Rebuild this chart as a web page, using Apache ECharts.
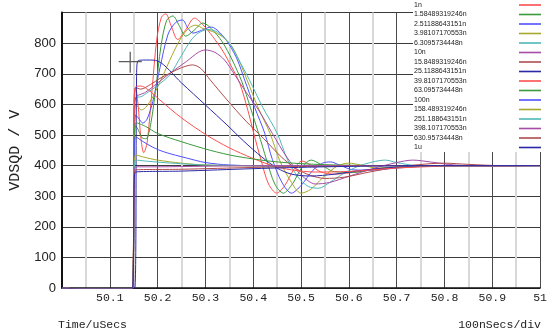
<!DOCTYPE html>
<html><head><meta charset="utf-8">
<script src="https://cdn.jsdelivr.net/npm/echarts@6/dist/echarts.min.js"></script>
<style>html,body{margin:0;padding:0;background:#fff}#c{width:550px;height:335px}</style>
</head><body><div id="c"></div>
<script>
const names = ['1n','1.58489319246n','2.51188643151n','3.98107170553n','6.3095734448n','10n','15.8489319246n','25.1188643151n','39.8107170553n','63.095734448n','100n','158.489319246n','251.188643151n','398.107170553n','630.95734448n','1u'];
const colors = ['#ff4f4f','#3a9a3a','#5050ff','#a8a82a','#50b8b8','#a64ca6','#b04c4c','#2a2aa8','#ff4f4f','#3a9a3a','#5050ff','#a8a82a','#50b8b8','#a64ca6','#b04c4c','#2a2aa8'];
const xTicks = [50.1,50.2,50.3,50.4,50.5,50.6,50.7,50.8,50.9,51];
const yTicks = [0,100,200,300,400,500,600,700,800];
const pre = [[50,0],[50.04,-3],[50.147,-3]];
const v1n = [[50.151,600],[50.154,657],[50.159,600],[50.165,490],[50.171,442],[50.178,475],[50.188,640],[50.198,810],[50.208,885],[50.217,896],[50.228,858],[50.242,812],[50.258,842],[50.277,882],[50.295,860],[50.315,822],[50.335,778],[50.355,722],[50.372,668],[50.388,585],[50.401,506],[50.416,420],[50.432,340],[50.449,310],[50.466,335],[50.485,388],[50.502,415],[50.52,402],[50.54,380],[50.57,372],[50.62,380],[50.68,392],[50.75,398],[50.85,400],[51,400]];
const v1n58 = [[50.151,480],[50.154,530],[50.16,515],[50.168,490],[50.176,488],[50.186,540],[50.196,650],[50.207,790],[50.219,875],[50.232,889],[50.245,858],[50.259,823],[50.276,842],[50.295,866],[50.312,848],[50.335,805],[50.356,745],[50.376,675],[50.394,590],[50.411,506],[50.428,418],[50.445,340],[50.463,310],[50.482,340],[50.502,395],[50.521,418],[50.54,405],[50.57,380],[50.61,378],[50.66,390],[50.72,398],[50.8,400],[51,400]];
const v2n51 = [[50.151,500],[50.154,565],[50.16,555],[50.169,539],[50.178,552],[50.19,610],[50.205,720],[50.222,830],[50.238,868],[50.252,876],[50.263,850],[50.274,833],[50.292,842],[50.312,853],[50.33,835],[50.35,795],[50.367,745],[50.382,680],[50.403,590],[50.424,506],[50.44,420],[50.46,345],[50.48,310],[50.5,335],[50.525,385],[50.545,408],[50.562,412],[50.58,402],[50.61,386],[50.65,385],[50.7,392],[50.78,399],[51,400]];
const v3n98 = [[50.151,540],[50.154,598],[50.159,592],[50.166,582],[50.175,590],[50.19,625],[50.21,690],[50.23,760],[50.25,820],[50.266,850],[50.28,859],[50.295,848],[50.315,838],[50.335,822],[50.355,790],[50.37,745],[50.387,680],[50.41,590],[50.435,506],[50.455,418],[50.478,350],[50.5,310],[50.52,322],[50.545,360],[50.575,398],[50.6,408],[50.625,402],[50.66,392],[50.72,395],[50.8,400],[51,400]];
const v6n31 = [[50.151,560],[50.154,622],[50.165,625],[50.18,640],[50.2,662],[50.225,696],[50.25,760],[50.27,810],[50.285,833],[50.305,845],[50.325,836],[50.35,800],[50.37,745],[50.392,680],[50.42,590],[50.45,506],[50.472,418],[50.495,360],[50.515,332],[50.537,326],[50.56,345],[50.59,375],[50.62,398],[50.65,412],[50.676,418],[50.7,410],[50.74,400],[50.8,398],[51,400]];
const v10n = [[50.151,560],[50.154,622],[50.175,640],[50.2,670],[50.227,703],[50.26,740],[50.285,770],[50.3,778],[50.32,770],[50.34,745],[50.362,695],[50.385,640],[50.411,582],[50.44,505],[50.47,428],[50.5,370],[50.53,340],[50.56,345],[50.6,365],[50.65,390],[50.7,410],[50.734,418],[50.77,412],[50.82,402],[50.9,398],[51,400]];
const v15n8 = [[50.151,600],[50.154,655],[50.165,650],[50.185,665],[50.205,685],[50.227,703],[50.25,720],[50.273,729],[50.29,718],[50.31,680],[50.345,615],[50.385,545],[50.422,488],[50.459,428],[50.49,390],[50.52,368],[50.55,358],[50.59,362],[50.64,378],[50.7,395],[50.76,405],[50.8,408],[50.85,404],[50.92,400],[51,400]];
const v25n1 = [[50.152,-3],[50.156,690],[50.159,743],[50.18,745],[50.2,742],[50.25,670],[50.3,598],[50.345,533],[50.38,480],[50.418,428],[50.45,392],[50.48,372],[50.52,366],[50.57,372],[50.63,385],[50.7,395],[50.8,400],[51,400]];
const v39n8 = [[50.151,600],[50.154,657],[50.165,660],[50.18,648],[50.205,614],[50.25,556],[50.302,500],[50.35,458],[50.397,425],[50.44,400],[50.48,386],[50.53,379],[50.6,381],[50.7,392],[50.8,398],[51,400]];
const v63n1 = [[50.151,480],[50.155,540],[50.175,528],[50.2,505],[50.25,478],[50.31,450],[50.366,430],[50.45,412],[50.55,403],[50.7,400],[51,400]];
const v100n = [[50.151,440],[50.154,494],[50.17,478],[50.19,460],[50.215,444],[50.26,425],[50.3,410],[50.35,402],[50.45,398],[50.6,400],[51,400]];
const v158n = [[50.151,390],[50.154,435],[50.17,428],[50.2,418],[50.25,408],[50.3,402],[50.4,399],[50.6,400],[51,400]];
const v251n = [[50.151,380],[50.154,418],[50.18,414],[50.23,408],[50.3,402],[50.45,400],[51,400]];
const v398n = [[50.151,360],[50.154,396],[50.2,396],[50.3,398],[50.45,400],[51,400]];
const v631n = [[50.151,350],[50.154,386],[50.25,388],[50.4,394],[50.55,398],[50.7,400],[51,400]];
const v1u = [[50.151,345],[50.154,379],[50.25,382],[50.4,390],[50.55,396],[50.75,400],[51,400]];
const cursor = [[50.1427,738]];

const curveData = [v1n,v1n58,v2n51,v3n98,v6n31,v10n,v15n8,v25n1,v39n8,v63n1,v100n,v158n,v251n,v398n,v631n,v1u];
const mono = 'Liberation Mono';
const series = curveData.map((d,i)=>({
  name: names[i], type:'line', symbol:'none', showSymbol:false, smooth:0.3,
  data: (i===7 ? pre.slice(0,2).concat([[50.152,-3]]).concat(d.slice(1)) : pre.concat(d)),
  lineStyle:{width:1,color:colors[i]}, itemStyle:{color:colors[i]}, z: 3
}));
series.push({
  type:'scatter', data: cursor, symbol:'path://M0,10H23M11.5,0V21', symbolSize:[23,21],
  itemStyle:{color:'rgba(0,0,0,0)', borderColor:'#333', borderWidth:1.2}, silent:true, z:4
});
const chart = echarts.init(document.getElementById('c'), null, {renderer:'canvas'});
chart.setOption({
  animation:false,
  color: colors,
  grid:{left:58,right:7,top:12.6,bottom:47},
  title:[
    {text:'Time/uSecs', left:58, top:319, padding:0, textStyle:{fontFamily:mono,fontSize:11.5,fontWeight:'normal',color:'#222'}},
    {text:'100nSecs/div', right:9, top:319, padding:0, textStyle:{fontFamily:mono,fontSize:11.5,fontWeight:'normal',color:'#222'}}
  ],
  legend:{
    data:names, orient:'vertical', left:413, top:0, padding:[1.5,4,1,1], itemGap:2.5,
    align:'right', icon:'rect', itemWidth:22, itemHeight:1.6, selectedMode:false,
    backgroundColor:'#fff', z:10,
    formatter: n => '{a|'+n+'}',
    textStyle:{fontFamily:'Liberation Sans',fontSize:7,color:'#222',
      rich:{a:{width:100,align:'left',fontSize:7,fontFamily:'Liberation Sans',color:'#222'}}}
  },
  xAxis:{
    type:'value', min:50, max:51, interval:0.1,
    axisLine:{show:true,onZero:false,lineStyle:{color:'#111',width:1.5}},
    axisTick:{show:false}, minorTick:{show:false,splitNumber:2},
    minorSplitLine:{show:true,lineStyle:{color:'#d8d8d8',width:2}},
    splitLine:{show:true,lineStyle:{color:'#4a4a4a',width:1}},
    axisLabel:{margin:4,fontFamily:mono,fontSize:11.5,color:'#222',
      formatter:v=>{const r=Math.round(v*10)/10; return xTicks.includes(r)? String(r):'';}}
  },
  yAxis:{
    type:'value', min:0, max:900, interval:100,
    name:'VDSQD / V', nameLocation:'middle', nameGap:39,
    nameTextStyle:{fontFamily:mono,fontSize:15,color:'#222'},
    axisLine:{show:true,lineStyle:{color:'#111',width:2}},
    axisTick:{show:false},
    splitLine:{show:true,lineStyle:{color:'#3a3a3a',width:1}},
    axisLabel:{margin:6,fontFamily:'Liberation Sans',fontSize:13,color:'#222',
      formatter:v=> yTicks.includes(v)? String(v):''}
  },
  series: series
});
</script></body></html>
